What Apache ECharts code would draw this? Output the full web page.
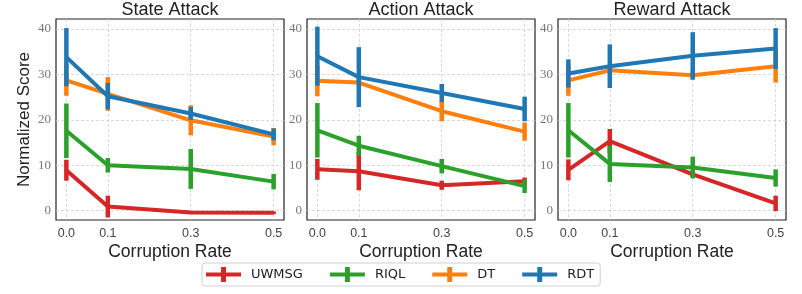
<!DOCTYPE html>
<html>
<head>
<meta charset="utf-8">
<script src="https://cdn.jsdelivr.net/npm/echarts@6/dist/echarts.min.js"></script>
<style>html,body{margin:0;padding:0;background:#fff}#c{width:802px;height:294px}</style>
</head>
<body>
<div id="c"></div>
<script>
const panelTitles = ['State Attack', 'Action Attack', 'Reward Attack'];
const methods = ['UWMSG', 'RIQL', 'DT', 'RDT'];
const xValues = [0.0, 0.1, 0.3, 0.5];
const xTickLabels = ['0.0', '0.1', '0.3', '0.5'];
const yTickValues = [0, 10, 20, 30, 40];

// State Attack
const uwmsgState = [8.9, 0.9, -0.4, -0.45];
const uwmsgStateErr = [2.3, 2.4, 0.3, 0.3];
const riqlState = [17.6, 10.0, 9.2, 6.4];
const riqlStateErr = [6.0, 1.6, 4.4, 1.7];
const dtState = [28.7, 25.7, 19.9, 16.3];
const dtStateErr = [3.4, 3.7, 3.3, 1.9];
const rdtState = [33.8, 25.2, 21.4, 16.8];
const rdtStateErr = [6.4, 2.9, 1.4, 1.3];

// Action Attack
const uwmsgAction = [9.1, 8.7, 5.6, 6.5];
const uwmsgActionErr = [2.3, 4.2, 1.0, 0.8];
const riqlAction = [17.7, 14.3, 9.8, 5.4];
const riqlActionErr = [6.0, 2.2, 1.6, 1.5];
const dtAction = [28.6, 28.2, 21.9, 17.4];
const dtActionErr = [3.4, 1.0, 2.2, 2.0];
const rdtAction = [34.0, 29.4, 25.9, 22.4];
const rdtActionErr = [6.5, 6.6, 2.0, 2.7];

// Reward Attack
const uwmsgReward = [9.0, 15.3, 8.0, 1.6];
const uwmsgRewardErr = [2.3, 2.7, 0.5, 1.7];
const riqlReward = [17.7, 10.3, 9.5, 7.2];
const riqlRewardErr = [6.0, 4.0, 2.4, 1.9];
const dtReward = [28.7, 30.9, 29.8, 31.8];
const dtRewardErr = [3.4, 1.0, 1.0, 3.6];
const rdtReward = [30.2, 31.8, 34.1, 35.7];
const rdtRewardErr = [3.1, 4.8, 5.2, 4.5];

const colors = {UWMSG: '#d62728', RIQL: '#2ca02c', DT: '#ff7f0e', RDT: '#1f77b4'};

const panels = [
  {UWMSG: [uwmsgState, uwmsgStateErr], RIQL: [riqlState, riqlStateErr], DT: [dtState, dtStateErr], RDT: [rdtState, rdtStateErr]},
  {UWMSG: [uwmsgAction, uwmsgActionErr], RIQL: [riqlAction, riqlActionErr], DT: [dtAction, dtActionErr], RDT: [rdtAction, rdtActionErr]},
  {UWMSG: [uwmsgReward, uwmsgRewardErr], RIQL: [riqlReward, riqlRewardErr], DT: [dtReward, dtRewardErr], RDT: [rdtReward, rdtRewardErr]}
];

const gridLefts = [56, 307, 558];
const gridW = 228, gridTop = 19, gridH = 201;

const grids = [], xAxes = [], yAxes = [], titles = [], series = [];
gridLefts.forEach((l, p) => {
  grids.push({left: l, top: gridTop, width: gridW, height: gridH, show: true,
    borderColor: '#222', borderWidth: 1.2, backgroundColor: 'transparent'});
  titles.push({text: panelTitles[p], left: l + gridW / 2, top: 1, textAlign: 'center', padding: 0,
    textStyle: {fontFamily: 'Liberation Sans', fontSize: 18, fontWeight: 'normal', color: '#222'}});
  xAxes.push({type: 'value', gridIndex: p, min: -0.025, max: 0.525,
    name: 'Corruption Rate', nameLocation: 'middle', nameGap: 23, nameMoveOverlap: false,
    nameTextStyle: {fontFamily: 'Liberation Sans', fontSize: 17.5, color: '#222'},
    axisLine: {show: false},
    axisTick: {show: false, customValues: xValues},
    axisLabel: {customValues: xValues, margin: 7, fontFamily: 'Liberation Sans', fontSize: 12.5, color: '#444',
      formatter: v => xTickLabels[xValues.findIndex(x => Math.abs(x - v) < 1e-9)] || ''},
    splitLine: {show: true, lineStyle: {color: '#cfcfcf', type: [3, 2], width: 0.8}}
  });
  yAxes.push({type: 'value', gridIndex: p, min: -2.05, max: 42.2,
    name: p === 0 ? 'Normalized Score' : '', nameLocation: 'middle', nameGap: 23, nameMoveOverlap: false,
    nameTextStyle: {fontFamily: 'Liberation Sans', fontSize: 17, color: '#222'},
    axisLine: {show: false},
    axisTick: {show: false, customValues: yTickValues},
    axisLabel: {customValues: yTickValues, margin: 5, fontFamily: 'Liberation Serif', fontSize: 13, color: '#777'},
    splitLine: {show: true, lineStyle: {color: '#cfcfcf', type: [3, 2], width: 0.8}}
  });
  methods.forEach((m, k) => {
    const [vals, errs] = panels[p][m];
    series.push({
      type: 'custom', name: m, xAxisIndex: p, yAxisIndex: p, z: 2 + k * 2,
      data: xValues.map((x, i) => [x, vals[i], errs[i]]),
      renderItem: (params, api) => {
        const x = api.value(0), v = api.value(1), e = api.value(2);
        const a = api.coord([x, v - e]), b = api.coord([x, v + e]);
        return {type: 'line', shape: {x1: a[0], y1: a[1], x2: b[0], y2: b[1]},
          style: {stroke: colors[m], lineWidth: 4.5}};
      },
      silent: true
    });
    series.push({
      type: 'line', name: m, xAxisIndex: p, yAxisIndex: p, z: 3 + k * 2,
      data: xValues.map((x, i) => [x, vals[i]]),
      symbol: 'none', lineStyle: {color: colors[m], width: 4}, itemStyle: {color: colors[m]},
      silent: true, animation: false
    });
  });
});

const crossIcon = 'path://M0,5.5h35v4h-35z M15,0h5v15h-5z';

const option = {
  animation: false,
  title: titles,
  grid: grids,
  xAxis: xAxes,
  yAxis: yAxes,
  legend: {
    left: 202, top: 263, padding: [4, 6, 4, 4], itemGap: 27, itemWidth: 35, itemHeight: 15,
    borderColor: '#d0d0d0', borderWidth: 1, borderRadius: 3,
    textStyle: {fontFamily: 'DejaVu Sans', fontSize: 13, color: '#222', padding: [0, 0, 0, 5]},
    data: methods.map(m => ({name: m, icon: crossIcon, itemStyle: {color: colors[m]}}))
  },
  series: series
};

const chart = echarts.init(document.getElementById('c'), null, {renderer: 'canvas'});
chart.setOption(option);
</script>
</body>
</html>
